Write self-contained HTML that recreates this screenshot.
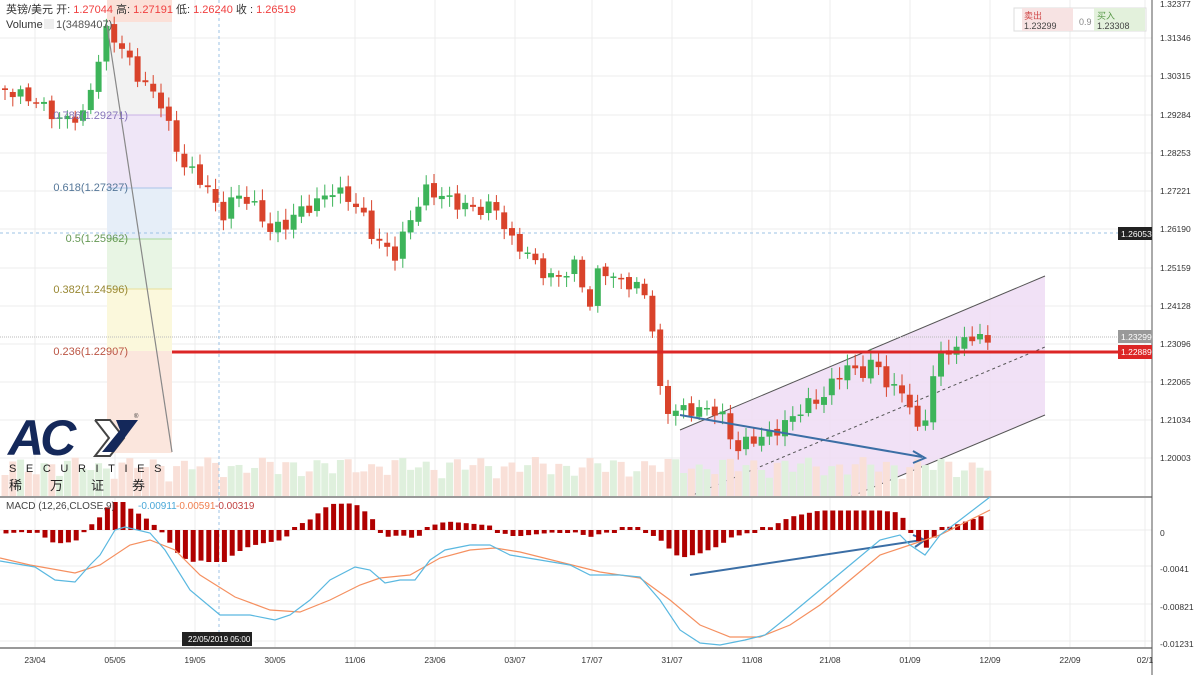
<!DOCTYPE html>
<html><head><meta charset="utf-8"><style>
body{margin:0;background:#fff;width:1200px;height:675px;overflow:hidden;font-family:"Liberation Sans","Noto Sans CJK SC",sans-serif}
svg{display:block}
text{font-family:"Liberation Sans","Noto Sans CJK SC",sans-serif}
</style></head><body>
<svg id="c" width="1200" height="675" xmlns="http://www.w3.org/2000/svg">
<g id="grid" stroke="#ececec" stroke-width="1"></g>
<rect x="107" y="0" width="65" height="22" fill="#fbe0d8"/>
<rect x="107" y="22" width="65" height="93" fill="#f2f2f2"/>
<rect x="107" y="115" width="65" height="73" fill="#efe6f7"/>
<rect x="107" y="188" width="65" height="51" fill="#e6eef8"/>
<rect x="107" y="239" width="65" height="50" fill="#e8f5e4"/>
<rect x="107" y="289" width="65" height="62" fill="#fbf8dc"/>
<rect x="107" y="351" width="65" height="102" fill="#fbe6dd"/>
<g stroke-width="1"><line x1="107" y1="115" x2="172" y2="115" stroke="#c9b3e6"/><line x1="107" y1="188" x2="172" y2="188" stroke="#a9c4e8"/><line x1="107" y1="239" x2="172" y2="239" stroke="#a8d89a"/><line x1="107" y1="289" x2="172" y2="289" stroke="#e8df9a"/></g>
<polygon points="680,430 1045,276 1045,415 850,497 680,497" fill="#eedcf5" opacity="0.85"/>
<line x1="680" y1="430" x2="1045" y2="276" stroke="#555" stroke-width="1"/>
<line x1="850" y1="497" x2="1045" y2="415" stroke="#555" stroke-width="1"/>
<line x1="688" y1="497" x2="1045" y2="347" stroke="#555" stroke-width="1" stroke-dasharray="3,3"/>
<g id="vol"></g>
<line x1="0" y1="233" x2="1152" y2="233" stroke="#9cc3e6" stroke-dasharray="3,3"/>
<line x1="0" y1="337" x2="1152" y2="337" stroke="#bbb" stroke-dasharray="1,1"/>
<line x1="219" y1="0" x2="219" y2="648" stroke="#9cc3e6" stroke-dasharray="3,3"/>
<g id="cand"></g>
<line x1="107" y1="25" x2="172" y2="452" stroke="#888" stroke-width="1.2"/>
<line x1="172" y1="352" x2="1145" y2="352" stroke="#dc2626" stroke-width="3"/>
<g font-size="11" text-anchor="end">
<text x="128" y="119" fill="#8877bb">0.786(1.29271)</text>
<text x="128" y="191" fill="#557799">0.618(1.27327)</text>
<text x="128" y="242" fill="#669955">0.5(1.25962)</text>
<text x="128" y="293" fill="#998833">0.382(1.24596)</text>
<text x="128" y="355" fill="#bb5544">0.236(1.22907)</text>
</g>
<line x1="680" y1="415" x2="922" y2="457" stroke="#3b6ea5" stroke-width="2"/>
<polyline points="913,451 925,458 913,463" fill="none" stroke="#3b6ea5" stroke-width="2"/>
<line x1="690" y1="575" x2="922" y2="540" stroke="#3b6ea5" stroke-width="2"/>
<polyline points="913,535 925,540 915,547" fill="none" stroke="#3b6ea5" stroke-width="2"/>
<line x1="0" y1="497" x2="1152" y2="497" stroke="#999" stroke-width="2"/>
<line x1="0" y1="648" x2="1152" y2="648" stroke="#999" stroke-width="2"/>
<line x1="1152" y1="0" x2="1152" y2="675" stroke="#555" stroke-width="1"/>
<g id="macd"></g>
<text x="6" y="13" font-size="11" fill="#333">英镑/美元  开: <tspan fill="#f04040">1.27044</tspan> 高: <tspan fill="#f04040">1.27191</tspan> 低: <tspan fill="#f04040">1.26240</tspan> 收 : <tspan fill="#f04040">1.26519</tspan></text>
<text x="6" y="28" font-size="11" fill="#333">Volume</text>
<rect x="44" y="19" width="10" height="10" fill="#eee"/>
<text x="56" y="28" font-size="11" fill="#555">1(3489407)</text>
<text x="6" y="509" font-size="10" fill="#444">MACD (12,26,CLOSE,9)</text>
<text x="138" y="509" font-size="10" fill="#4aa8d8">-0.00911</text>
<text x="176" y="509" font-size="10" fill="#f08050">-0.00591</text>
<text x="215" y="509" font-size="10" fill="#c04040">-0.00319</text>
<rect x="1014" y="8" width="132" height="23" fill="#fff" stroke="#ddd"/>
<rect x="1022" y="8" width="51" height="23" fill="#f7e3e3"/>
<rect x="1094" y="8" width="51" height="23" fill="#e3f1dc"/>
<text x="1024" y="19" font-size="9" fill="#d04848">卖出</text><text x="1024" y="29" font-size="9" fill="#444">1.23299</text>
<text x="1079" y="25" font-size="9" fill="#888">0.9</text>
<text x="1097" y="19" font-size="9" fill="#5a9a4a">买入</text><text x="1097" y="29" font-size="9" fill="#444">1.23308</text>
<g id="axis" font-size="8.5" fill="#333"></g>
<rect x="1118" y="227" width="34" height="13" fill="#222"/><text x="1121" y="237" font-size="8.5" fill="#fff">1.26053</text>
<rect x="1118" y="330" width="34" height="13" fill="#999"/><text x="1121" y="340" font-size="8.5" fill="#fff">1.23299</text>
<rect x="1118" y="345" width="34" height="14" fill="#dc2626"/><text x="1121" y="355" font-size="8.5" fill="#fff">1.22889</text>
<rect x="182" y="632" width="70" height="14" fill="#222"/><text x="188" y="642" font-size="8" fill="#fff">22/05/2019  05:00</text>
<g>
<text x="8" y="455" font-size="50" font-weight="bold" font-style="italic" fill="#14285a" letter-spacing="-4">AC</text>
<polyline points="95,420 110,420 124,438 110,456 95,456 109,438 95,420" fill="#fff" stroke="#444" stroke-width="2"/>
<polygon points="116,420 138,420 114,452 102,452 120,430" fill="#14285a"/>
<text x="134" y="418" font-size="6" fill="#333">®</text>
<text x="9" y="472" font-size="11" fill="#222" letter-spacing="9.6">SECURITIES</text>
<text x="9" y="490" font-size="13" fill="#222" letter-spacing="28">稀万证券</text>
</g>
</svg>
<script>
(function(){
var NS="http://www.w3.org/2000/svg";
function el(p,t,a){var e=document.createElementNS(NS,t);for(var k in a)e.setAttribute(k,a[k]);document.getElementById(p).appendChild(e);return e;}
[38,76,115,153,191,229,268,306,344,382,420,458,530,566,604,641].forEach(function(y){el('grid','line',{x1:0,y1:y,x2:1152,y2:y});});
var dx=[35,115,195,275,355,435,515,592,672,752,830,910,990,1070,1145];
dx.forEach(function(x){el('grid','line',{x1:x,y1:0,x2:x,y2:648});});
var dl=["23/04","05/05","19/05","30/05","11/06","23/06","03/07","17/07","31/07","11/08","21/08","01/09","12/09","22/09","02/1"];
dx.forEach(function(x,i){var t=el('axis','text',{x:x,y:663,'text-anchor':'middle'});t.textContent=dl[i];});
var pl=[[38,"1.31346"],[76,"1.30315"],[115,"1.29284"],[153,"1.28253"],[191,"1.27221"],[229,"1.26190"],[268,"1.25159"],[306,"1.24128"],[344,"1.23096"],[382,"1.22065"],[420,"1.21034"],[458,"1.20003"],[533,"0"],[569,"-0.0041"],[607,"-0.00821"],[644,"-0.01231"],[4,"1.32377"]];
pl.forEach(function(p){var t=el('axis','text',{x:1160,y:p[0]+3});t.textContent=p[1];});
function interp(P,x){for(var i=1;i<P.length;i++){if(x<=P[i][0]){var a=P[i-1],b=P[i];return a[1]+(b[1]-a[1])*(x-a[0])/(b[0]-a[0]);}}return P[P.length-1][1];}
var path=[[5,90],[35,100],[60,120],[85,115],[95,70],[107,30],[120,45],[140,80],[160,100],[180,160],[210,190],[220,220],[235,195],[250,200],[270,230],[285,225],[300,210],[315,205],[330,190],[345,195],[360,210],[375,240],[395,255],[410,220],[425,190],[440,195],[460,205],[480,210],[495,205],[510,240],[525,250],[540,270],[555,280],[575,265],[590,305],[600,265],[615,280],[635,285],[650,300],[657,380],[665,410],[680,410],[700,410],[720,410],[735,450],[750,440],[770,435],[790,420],[805,405],[820,400],[835,380],[845,365],[860,375],[875,360],[890,390],[905,390],[920,440],[935,370],[945,345],[955,355],[965,335],[980,340],[990,338]];
var prev=interp(path,0);
for(var i=0;i<127;i++){var x=5+i*7.8;var c=interp(path,x)+Math.sin(i*2.3)*6;var o=prev+Math.sin(i*1.7)*2;prev=c;
 var up=c<o;var col=up?"#3db45a":"#d9432b";var ty=Math.min(o,c),by=Math.max(o,c);if(by-ty<1.5)by=ty+1.5;
 var wt=ty-3-Math.abs(Math.sin(i*3.1))*8,wb=by+3+Math.abs(Math.cos(i*2.7))*7;
 el('cand','line',{x1:x,y1:wt,x2:x,y2:wb,stroke:col,'stroke-width':1});
 el('cand','rect',{x:x-3,y:ty,width:6,height:by-ty,fill:col});
 var vh=14+Math.abs(Math.sin(i*0.9))*18+Math.abs(Math.cos(i*0.37))*8;
 el('vol','rect',{x:x-3.5,y:497-vh,width:7,height:vh,fill:up?"#dff0dd":"#f9e0d8"});
}
var blue=[[0,561],[35,567],[55,580],[75,582],[90,565],[100,555],[115,530],[125,527],[150,533],[165,550],[190,590],[220,615],[250,615],[275,620],[290,615],[310,600],[330,580],[355,567],[370,570],[385,583],[400,580],[415,580],[430,560],[445,550],[470,545],[490,545],[510,555],[540,560],[570,565],[590,575],[620,575],[640,577],[660,600],[680,630],[700,643],[720,645],[745,640],[765,635],[790,615],[820,590],[850,565],[880,540],[900,535],[910,545],[925,555],[940,535],[960,520],[990,497]];
var org=[[0,558],[30,565],[75,573],[100,565],[130,545],[150,540],[175,550],[200,575],[235,597],[270,610],[300,612],[330,600],[360,585],[380,578],[410,575],[440,558],[470,550],[495,548],[520,552],[560,562],[600,572],[640,578],[670,600],[700,625],[730,637],[760,637],[790,625],[820,605],[850,580],[880,555],[910,545],[940,535],[970,520],[990,510]];
for(var i=0;i<126;i++){var x=6+i*7.8;var h=(interp(org,x)-interp(blue,x))*1.3;if(h>28)h=28;if(h<-32)h=-32;if(Math.abs(h)<2)h=h<0?-3:3;
 el('macd','rect',{x:x-2.5,y:h>0?530-h:530,width:5,height:Math.abs(h),fill:"#b00000"});}
function pts(P){return P.map(function(p){return p[0]+","+p[1];}).join(" ");}
el('macd','polyline',{points:pts(org),fill:"none",stroke:"#f59060",'stroke-width':1.2});
el('macd','polyline',{points:pts(blue),fill:"none",stroke:"#5ab8e0",'stroke-width':1.2});
})();
</script>
</body></html>
